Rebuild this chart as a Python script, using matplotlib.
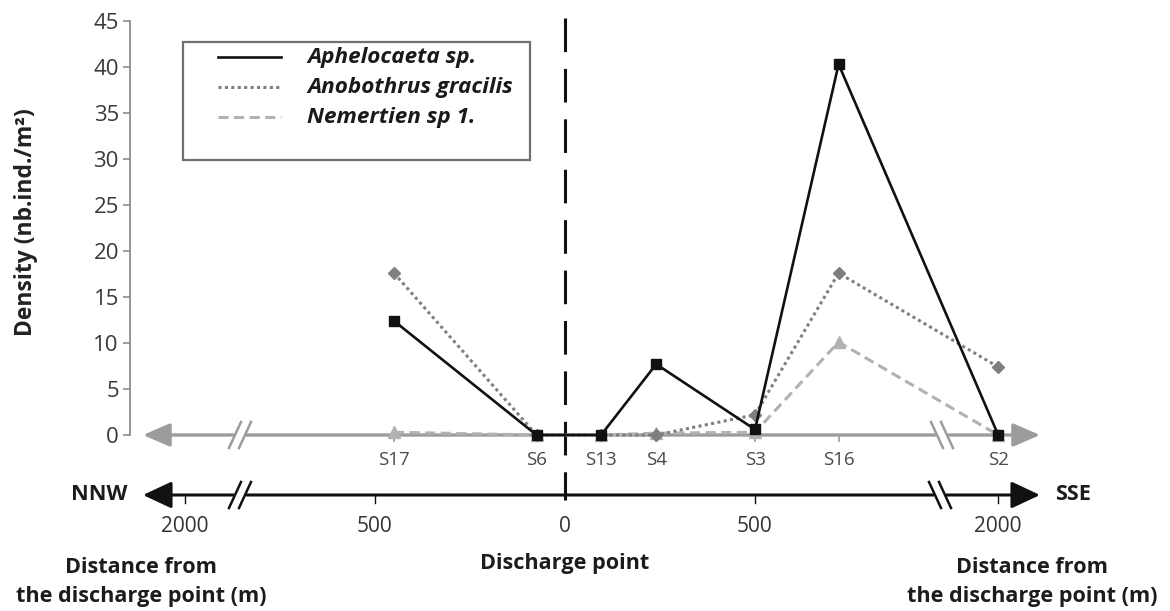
import matplotlib.pyplot as plt
from matplotlib.lines import Line2D
from matplotlib.patches import Rectangle
from matplotlib.transforms import Affine2D, blended_transform_factory

plt.rcParams['font.family'] = ['Open Sans', 'DejaVu Sans']

# stations along the NNW-SSE transect, distance from the discharge point (m)
stations = ['S17', 'S6', 'S13', 'S4', 'S3', 'S16', 'S2']
distance_m = [-450, -75, 95, 240, 500, 720, 2000]

# densities (nb.ind./m2)
aphelocaeta = [12.4, 0.0, 0.0, 7.7, 0.6, 40.3, 0.0]
anobothrus = [17.6, 0.0, 0.0, 0.0, 2.2, 17.6, 7.4]
nemertien = [0.3, 0.0, 0.0, 0.2, 0.3, 10.1, 0.0]

dist_ticks = [-2000, -500, 0, 500, 2000]
dist_labels = ['2000', '500', '0', '500', '2000']

W, H = 1170, 611
X0, PX_PER_M = 565, 0.38     # discharge point and scale of the distance axis
Y0 = 435


def axis_pos(d):
    # the 2000 m stations sit just past the axis breaks
    if d >= 2000:
        return 1140
    if d <= -2000:
        return -1000
    return d


def px_to_x(px):
    return (px - X0) / PX_PER_M


fig = plt.figure(figsize=(W / 100, H / 100), dpi=100)
ax = fig.add_axes([130 / W, 1 - 435 / H, 1040 / W, 414 / H])
ax.set_xlim(px_to_x(130), px_to_x(1170))
ax.set_ylim(0, 45)

# pixel coords measured from the top-left corner
pix = Affine2D().scale(1 / W, -1 / H).translate(0, 1) + fig.transFigure
xd_ypix = blended_transform_factory(ax.transData, pix)

for s in ['top', 'right', 'bottom']:
    ax.spines[s].set_visible(False)
ax.spines['left'].set_color('#8c8c8c')
ax.spines['left'].set_linewidth(1.3)
ax.set_xticks([])
ax.set_yticks(range(0, 46, 5))
ax.tick_params(axis='y', direction='out', length=5, width=1.2, color='#8c8c8c',
               labelsize=16, labelcolor='#3a3a3a', pad=3)

fig.text(26, 222, 'Density (nb.ind./m²)', transform=pix, rotation=90,
         ha='center', va='center', fontsize=16.5, fontweight='bold', color='#222222')

GREY_AXIS = '#9c9c9c'
DARK = '#1c1c1c'
BOLD_SIZE = 15.6

# grey station axis at density 0
ax.annotate('', xy=(px_to_x(1040), 0), xytext=(px_to_x(143), 0),
            arrowprops=dict(arrowstyle='<|-|>,head_length=1.5,head_width=0.65',
                            color=GREY_AXIS, lw=2.4, shrinkA=0, shrinkB=0,
                            mutation_scale=11),
            annotation_clip=False, zorder=1)
xs = [axis_pos(d) for d in distance_m]
ax.vlines(xs, -0.8, 0, color=GREY_AXIS, lw=1.2, clip_on=False, zorder=1)
for x, name in zip(xs, stations):
    ax.text(x, 460, name, transform=xd_ypix, ha='center', va='center',
            fontsize=13.5, color='#4a4a4a')

# black distance axis
YB = 495
ax.annotate('', xy=(px_to_x(1040), YB), xytext=(px_to_x(143), YB),
            xycoords=xd_ypix, textcoords=xd_ypix,
            arrowprops=dict(arrowstyle='<|-|>,head_length=1.6,head_width=0.75',
                            color='#111111', lw=2.2, shrinkA=0, shrinkB=0,
                            mutation_scale=11),
            annotation_clip=False)
for d, lab in zip(dist_ticks, dist_labels):
    x = axis_pos(d)
    if d != 0:
        ax.plot([x, x], [YB, YB + 8], transform=xd_ypix, color='#111111',
                lw=1.0, clip_on=False)
    ax.text(x, 527, lab, transform=xd_ypix, ha='center', va='center',
            fontsize=15, color='#333333')


def axis_break(xc, yc, color, slope):
    # white gap with two slanted strokes
    ax.plot([xc - 6, xc + 6], [yc, yc], transform=pix, color='white', lw=4,
            clip_on=False, zorder=6, solid_capstyle='butt')
    for off in (-5, 5):
        ax.plot([xc + off - 6 * slope, xc + off + 6 * slope], [yc + 13, yc - 13],
                transform=pix, color=color, lw=1.8, clip_on=False, zorder=7)


axis_break(240, Y0, GREY_AXIS, 1)
axis_break(942, Y0, GREY_AXIS, -1)
axis_break(240, YB, '#111111', 1)
axis_break(940, YB, '#111111', -1)

ax.text(127, YB, 'NNW', transform=pix, ha='right', va='center',
        fontsize=BOLD_SIZE, fontweight='bold', color=DARK)
ax.text(1055, YB, 'SSE', transform=pix, ha='left', va='center',
        fontsize=BOLD_SIZE, fontweight='bold', color=DARK)
ax.text(565, 563, 'Discharge point', transform=pix, ha='center', va='center',
        fontsize=BOLD_SIZE, fontweight='bold', color=DARK)
for xc in (141, 1032):
    ax.text(xc, 582, 'Distance from\nthe discharge point (m)', transform=pix,
            ha='center', va='center', fontsize=BOLD_SIZE, fontweight='bold',
            color=DARK, linespacing=1.45, multialignment='center')

# discharge point
ax.plot([0, 0], [18, 500], transform=xd_ypix, color='#111111', lw=2.2,
        ls=(0, (11, 5.5)), clip_on=False, zorder=2)

styles = [
    ('Aphelocaeta sp.', aphelocaeta, dict(color='#111111', lw=1.9, ls='-',
                                          marker='s', ms=7, zorder=5)),
    ('Anobothrus gracilis', anobothrus, dict(color='#7f7f7f', lw=2.2, ls=(0, (1, 1.1)),
                                             marker='D', ms=6, zorder=4)),
    ('Nemertien sp 1.', nemertien, dict(color='#b2b2b2', lw=2.2, ls=(0, (3.3, 1.8)),
                                        marker='^', ms=8, zorder=3)),
]
for name, vals, kw in styles:
    ax.plot(xs, vals, clip_on=False, **kw)

# legend box
ax.add_patch(Rectangle((183, 42), 347, 118, transform=pix, fill=False,
                       edgecolor='#707070', lw=1.6, clip_on=False))
for i, (name, vals, kw) in enumerate(styles):
    y = 57 + 30 * i
    ax.add_line(Line2D([218, 281], [y, y], transform=pix, color=kw['color'],
                       lw=kw['lw'], ls=kw['ls'], clip_on=False))
    ax.text(307, y, name, transform=pix, ha='left', va='center', fontsize=16.2,
            fontweight='bold', fontstyle='italic', color='#1a1a1a')

fig.savefig('out.png', dpi=100, facecolor='white')
